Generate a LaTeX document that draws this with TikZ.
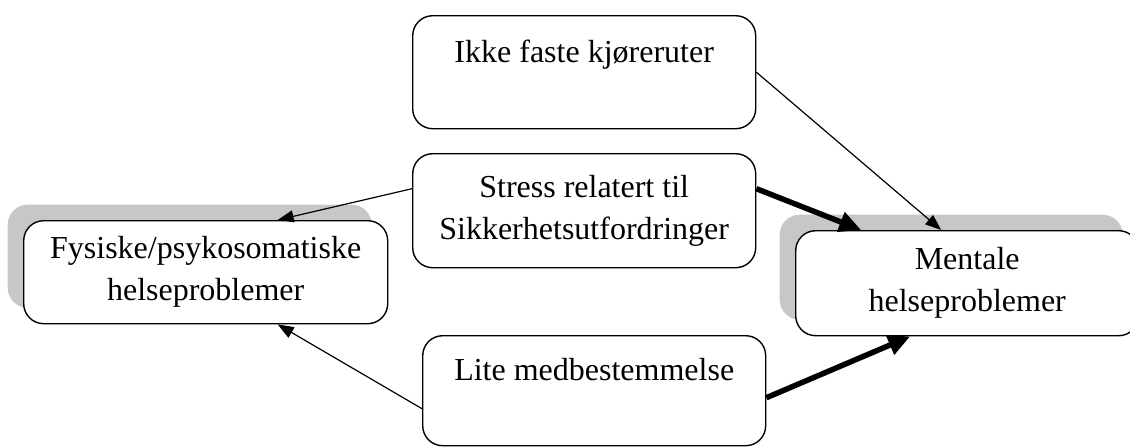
\documentclass[tikz,border=0pt]{standalone}
\usepackage{fontspec}
\setmainfont{Liberation Serif}
\usetikzlibrary{arrows.meta,shadows}
\begin{document}
\begin{tikzpicture}[x=1pt,y=-1pt,
  box/.style={draw, line width=1.4pt, rounded corners=20pt, fill=white,
    align=center, inner sep=2pt, anchor=north west,
    font=\fontsize{32}{42}\selectfont},
  shadowed/.style={general shadow={fill=black!22, shadow xshift=-16pt, shadow yshift=16pt}},
  thin/.style={line width=1.2pt, -{Triangle[length=16pt,width=12pt]}},
  thick/.style={line width=5.5pt, -{Triangle[length=22pt,width=20pt]}}]
\useasboundingbox (0,0) rectangle (1130,447);
\fill[white] (0,0) rectangle (1130,447);
\node[box, minimum width=343pt, minimum height=113pt] (ikke) at (412,15) {Ikke faste kjøreruter\\\mbox{}};
\node[box, minimum width=343pt, minimum height=114pt] (stress) at (412,153) {Stress relatert til\\Sikkerhetsutfordringer};
\node[box, shadowed, minimum width=364pt, minimum height=103pt] (fys) at (23,220) {Fysiske/psykosomatiske\\helseproblemer};
\node[box, shadowed, minimum width=343pt, minimum height=105pt] (ment) at (795,230) {Mentale\\helseproblemer};
\node[box, minimum width=343pt, minimum height=110pt] (lite) at (422,335) {Lite medbestemmelse\\\mbox{}};
\draw[thin] (ikke.east) -- ([xshift=-26pt]ment.north);
\draw[thin] ([yshift=22pt]stress.west) -- ([xshift=72pt]fys.north);
\draw[thick] ([yshift=22pt]stress.east) -- ([xshift=-106pt]ment.north);
\draw[thin] ([yshift=-18pt]lite.west) -- ([xshift=72pt]fys.south);
\draw[thick] ([yshift=-7pt]lite.east) -- ([xshift=-57pt]ment.south);
\end{tikzpicture}
\end{document}
